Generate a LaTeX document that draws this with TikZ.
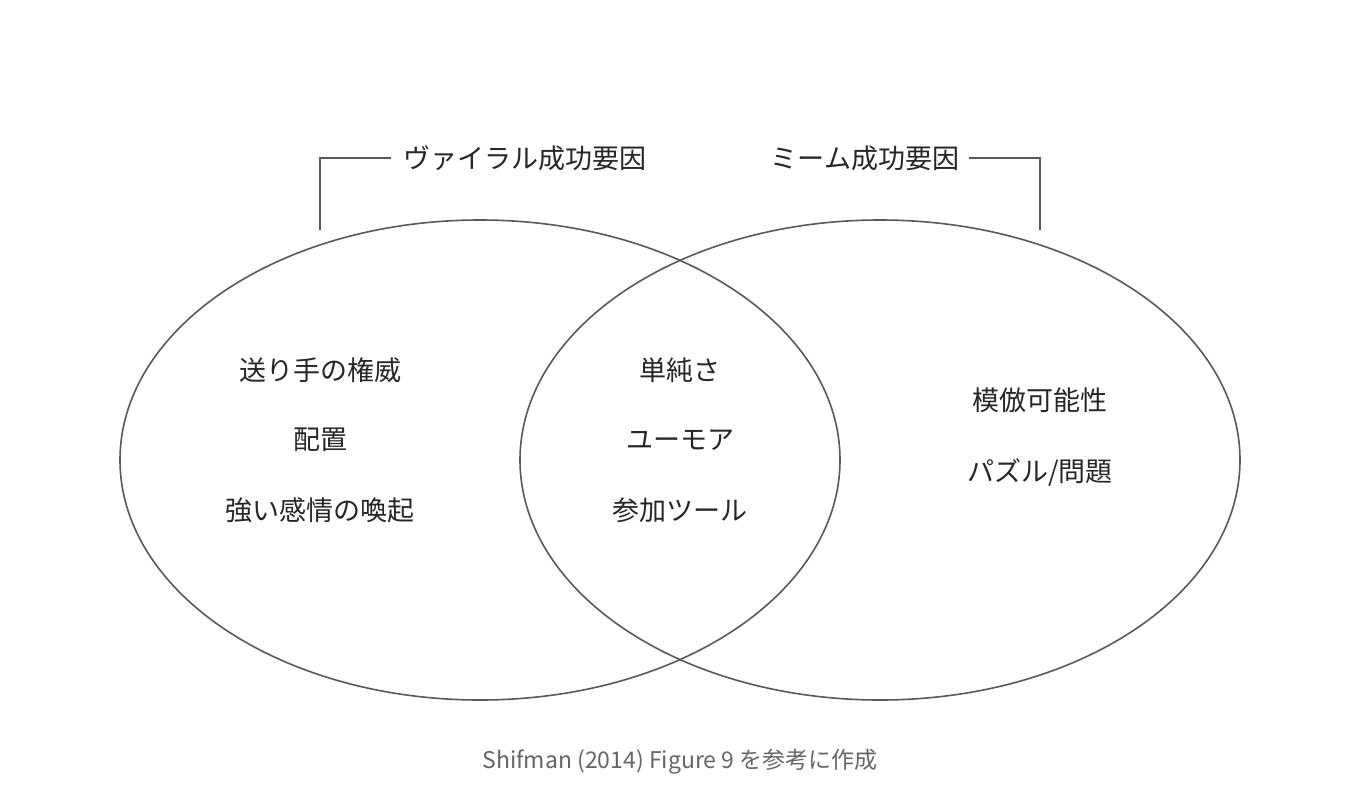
\documentclass[tikz,border=0pt]{standalone}
\usepackage{fontspec}
\setmainfont{Noto Sans CJK JP}
\begin{document}
\begin{tikzpicture}[x=1pt,y=-1pt,
  lbl/.style={font=\fontsize{27}{30}\selectfont, text=black!85, inner sep=0pt},
  ttl/.style={font=\fontsize{27}{30}\selectfont, text=black!85, inner sep=0pt},
  ln/.style={draw=black!65, line width=1.6pt},
  br/.style={draw=black!65, line width=1.2pt}]
\useasboundingbox (0,0) rectangle (1360,800);
\fill[white] (0,0) rectangle (1360,800);
\draw[ln] (480,460) ellipse [x radius=360, y radius=240];
\draw[ln] (880,460) ellipse [x radius=360, y radius=240];
\node[ttl] (tl) at (525,158) {ヴァイラル成功要因};
\node[ttl] (tr) at (865,158) {ミーム成功要因};
\coordinate (la) at (320,230);
\coordinate (ra) at (1040,230);
\draw[br] (la) |- ([xshift=-12pt]tl.west);
\draw[br] (ra) |- ([xshift=10pt]tr.east);
\node[lbl] (a1) at (320,370) {送り手の権威};
\node[lbl] (a2) at (320,440) {配置};
\node[lbl] (a3) at (320,510) {強い感情の喚起};
\node[lbl] (b1) at (680,370) {単純さ};
\node[lbl] (b2) at (680,440) {ユーモア};
\node[lbl] (b3) at (680,510) {参加ツール};
\node[lbl] (c1) at (1040,400) {模倣可能性};
\node[lbl] (c2) at (1040,472) {パズル/問題};
\node[font=\fontsize{23}{26}\selectfont, text=black!60, inner sep=0pt] (cap) at (680,762) {Shifman (2014) Figure 9 を参考に作成};
\end{tikzpicture}
\end{document}
